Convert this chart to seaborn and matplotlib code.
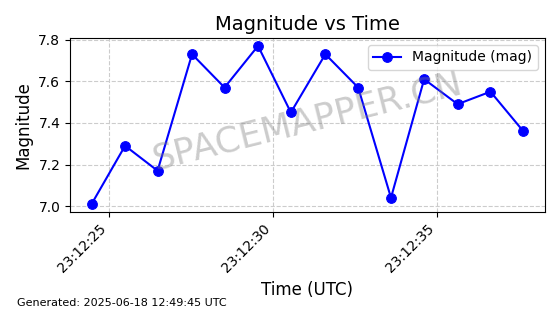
import matplotlib
matplotlib.use("Agg")
import matplotlib.pyplot as plt
import matplotlib.dates as mdates
import seaborn as sns
import pandas as pd
import numpy as np

times = ["23:12:24.47", "23:12:25.49", "23:12:26.48", "23:12:27.53", "23:12:28.52",
         "23:12:29.54", "23:12:30.54", "23:12:31.59", "23:12:32.59", "23:12:33.59",
         "23:12:34.60", "23:12:35.62", "23:12:36.62", "23:12:37.62"]
magnitude = [7.01, 7.29, 7.17, 7.73, 7.57, 7.77, 7.45, 7.73, 7.57, 7.04, 7.61, 7.49, 7.55, 7.36]

df = pd.DataFrame({
    "time": pd.to_datetime(["2025-06-18 " + t for t in times]),
    "mag": magnitude,
})

fig = plt.figure(figsize=(5.6, 3.14), dpi=100)
ax = fig.add_axes([0.125, 0.325, 0.848, 0.554])

sns.lineplot(data=df, x="time", y="mag", ax=ax, color="blue", marker="o",
             markersize=7, markeredgecolor="blue", linewidth=1.5,
             label="Magnitude (mag)")

ax.grid(True, linestyle="--", color="#cccccc", linewidth=0.8)
ax.set_title("Magnitude vs Time", fontsize=14)
ax.set_xlabel("Time (UTC)", fontsize=12)
ax.set_ylabel("Magnitude", fontsize=12)
ax.xaxis.set_major_locator(mdates.SecondLocator(bysecond=[0, 5, 10, 15, 20, 25, 30, 35, 40, 45, 50, 55]))
ax.xaxis.set_major_formatter(mdates.DateFormatter("%H:%M:%S"))
plt.setp(ax.get_xticklabels(), rotation=45, ha="right")
ax.set_yticks([7.0, 7.2, 7.4, 7.6, 7.8])
ax.legend(loc="upper right")

ax.text(0.5, 0.52, "SPACEMAPPER.CN", transform=ax.transAxes, fontsize=25.5,
        color="gray", alpha=0.4, rotation=14, ha="center", va="center")
fig.text(0.03, 0.025, "Generated: 2025-06-18 12:49:45 UTC", fontsize=8)

fig.savefig("out.png", dpi=100)
